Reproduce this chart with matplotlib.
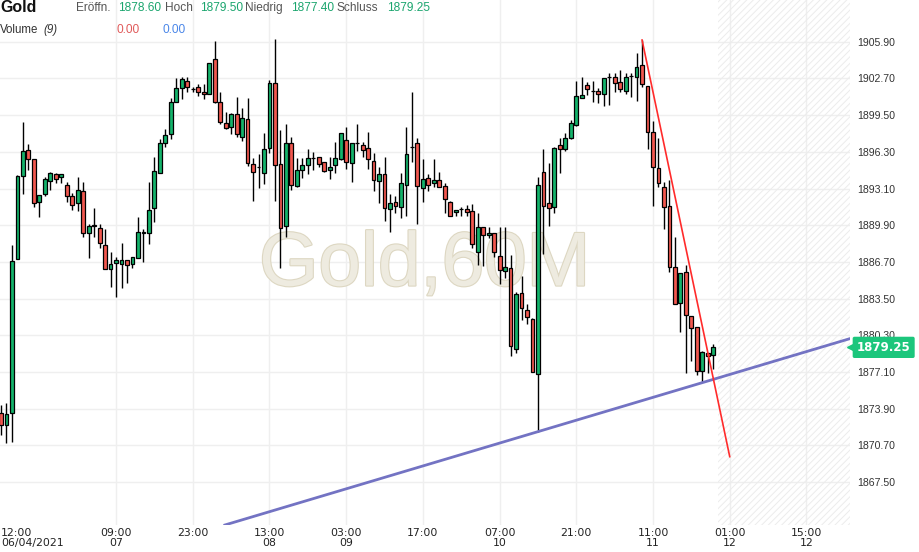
import numpy as np
import matplotlib
matplotlib.use('Agg')
import matplotlib.pyplot as plt
import matplotlib.patheffects as pe
from matplotlib.transforms import blended_transform_factory

# Gold, 60-minute candles
opens = [1873.50, 1872.48, 1873.56, 1886.98, 1894.22, 1896.46, 1895.67, 1891.95, 1892.59, 1893.73,
         1894.34, 1894.07, 1893.38, 1892.45, 1891.81, 1892.85, 1889.19, 1889.86, 1889.63, 1888.18,
         1886.05, 1886.58, 1886.49, 1886.87, 1886.49, 1887.01, 1889.19, 1889.19, 1891.37, 1894.48,
         1897.04, 1897.82, 1900.61, 1901.83, 1902.50, 1901.78, 1901.92, 1901.51, 1901.31, 1904.36,
         1900.61, 1898.78, 1898.49, 1899.57, 1897.62, 1899.13, 1895.21, 1895.00, 1894.42, 1896.60,
         1902.27, 1895.21, 1889.86, 1897.04, 1893.35, 1894.71, 1895.15, 1895.79, 1895.82, 1895.44,
         1894.71, 1895.15, 1895.64, 1897.30, 1895.30, 1897.10, 1896.86, 1896.60, 1895.47, 1893.73,
         1894.34, 1891.31, 1891.90, 1891.46, 1893.41, 1896.75, 1897.04, 1893.17, 1893.99, 1893.55,
         1893.81, 1893.32, 1891.90, 1891.02, 1891.28, 1891.28, 1891.11, 1887.54, 1889.77, 1889.05,
         1889.19, 1887.25, 1885.91, 1886.14, 1879.08, 1884.02, 1882.48, 1881.70, 1876.90, 1894.51,
         1891.81, 1891.52, 1896.86, 1896.52, 1897.48, 1898.64, 1900.96, 1902.12, 1901.60, 1901.60,
         1901.31, 1902.85, 1902.79, 1902.36, 1901.63, 1902.94, 1902.85, 1903.87, 1902.07, 1898.06,
         1894.86, 1893.26, 1891.60, 1886.23, 1883.09, 1885.85, 1882.01, 1881.00, 1877.22, 1878.73,
         1878.60]
highs = [1874.23, 1874.43, 1888.18, 1894.28, 1898.87, 1896.95, 1895.67, 1892.51, 1894.13, 1894.54,
         1894.48, 1894.34, 1893.70, 1892.68, 1894.10, 1893.70, 1890.01, 1891.37, 1890.01, 1889.54,
         1887.54, 1887.16, 1888.32, 1886.87, 1887.10, 1890.59, 1889.54, 1893.64, 1895.82, 1897.42,
         1898.26, 1900.96, 1902.71, 1902.79, 1902.79, 1901.98, 1902.18, 1902.18, 1904.01, 1905.99,
         1901.54, 1899.80, 1899.71, 1901.11, 1900.15, 1901.02, 1895.79, 1896.08, 1897.91, 1902.56,
         1906.11, 1898.20, 1898.70, 1897.56, 1895.73, 1895.73, 1896.55, 1896.31, 1895.82, 1895.44,
         1895.82, 1897.13, 1897.91, 1898.49, 1897.10, 1898.70, 1897.13, 1898.06, 1896.17, 1894.95,
         1895.82, 1892.62, 1892.48, 1894.42, 1898.43, 1901.49, 1897.48, 1895.64, 1894.34, 1895.64,
         1894.51, 1893.61, 1892.04, 1891.20, 1891.52, 1891.66, 1891.72, 1890.94, 1889.77, 1889.77,
         1889.19, 1889.77, 1889.77, 1887.30, 1884.05, 1885.50, 1883.03, 1881.78, 1894.13, 1896.52,
         1895.30, 1896.75, 1897.53, 1897.91, 1899.07, 1902.47, 1902.85, 1902.42, 1902.47, 1901.83,
         1902.71, 1903.14, 1903.20, 1903.43, 1903.14, 1903.20, 1904.94, 1906.05, 1902.07, 1899.02,
         1897.48, 1893.70, 1893.84, 1888.84, 1885.71, 1886.43, 1882.01, 1881.00, 1878.96, 1878.73,
         1879.50]
lows = [1871.61, 1870.88, 1871.03, 1886.98, 1892.59, 1894.71, 1891.52, 1890.65, 1892.48, 1893.00,
        1893.55, 1893.55, 1891.90, 1891.20, 1891.17, 1888.90, 1887.07, 1888.90, 1887.94, 1886.05,
        1884.54, 1883.67, 1884.40, 1884.83, 1886.14, 1887.01, 1886.72, 1888.23, 1890.15, 1894.42,
        1896.69, 1897.39, 1900.61, 1900.88, 1901.54, 1901.54, 1901.17, 1900.93, 1901.31, 1900.58,
        1898.70, 1898.26, 1897.82, 1897.62, 1897.24, 1895.06, 1892.04, 1893.17, 1893.49, 1896.17,
        1892.04, 1886.14, 1888.90, 1892.97, 1893.26, 1893.99, 1894.37, 1894.69, 1895.00, 1894.57,
        1893.90, 1894.48, 1895.59, 1894.77, 1893.70, 1896.40, 1895.82, 1894.77, 1892.91, 1891.81,
        1890.30, 1889.28, 1890.99, 1890.50, 1890.73, 1895.38, 1889.98, 1891.95, 1892.91, 1893.26,
        1893.20, 1890.99, 1890.70, 1890.70, 1890.73, 1890.73, 1887.89, 1886.43, 1886.35, 1888.76,
        1887.16, 1884.78, 1885.27, 1878.50, 1878.73, 1881.64, 1881.26, 1877.13, 1871.90, 1887.36,
        1889.86, 1890.94, 1894.48, 1896.37, 1897.39, 1898.55, 1900.96, 1901.25, 1900.67, 1900.53,
        1900.29, 1900.38, 1901.54, 1901.54, 1901.34, 1901.11, 1900.76, 1901.98, 1896.52, 1891.60,
        1893.20, 1889.57, 1885.79, 1883.00, 1880.62, 1876.99, 1878.09, 1876.84, 1876.26, 1876.99,
        1877.40]
closes = [1872.48, 1873.44, 1886.78, 1894.22, 1896.37, 1895.64, 1891.87, 1892.51, 1893.90, 1894.42,
          1893.96, 1894.34, 1892.42, 1891.66, 1892.94, 1889.19, 1889.83, 1889.90, 1888.32, 1886.05,
          1886.49, 1886.87, 1886.87, 1886.40, 1887.10, 1889.28, 1889.34, 1891.23, 1894.60, 1897.04,
          1897.77, 1900.61, 1901.83, 1902.62, 1901.92, 1901.78, 1901.51, 1901.31, 1904.01, 1900.67,
          1898.87, 1898.41, 1899.57, 1897.82, 1899.22, 1895.30, 1894.57, 1895.00, 1896.52, 1902.27,
          1895.12, 1889.63, 1897.10, 1893.41, 1894.69, 1895.15, 1895.73, 1895.79, 1895.24, 1894.63,
          1895.00, 1895.76, 1897.91, 1895.41, 1897.10, 1897.10, 1896.46, 1895.64, 1893.81, 1894.34,
          1891.37, 1891.87, 1891.60, 1893.55, 1896.08, 1896.75, 1893.32, 1893.90, 1893.38, 1893.81,
          1893.20, 1892.16, 1890.70, 1891.20, 1891.34, 1891.08, 1888.23, 1889.77, 1889.05, 1889.19,
          1887.54, 1886.00, 1886.23, 1879.37, 1883.90, 1882.65, 1881.93, 1877.13, 1893.38, 1891.58,
          1891.37, 1896.66, 1896.52, 1897.48, 1898.78, 1901.14, 1901.25, 1901.75, 1901.60, 1901.31,
          1902.71, 1902.85, 1902.27, 1901.75, 1902.85, 1902.94, 1903.67, 1902.18, 1898.00, 1894.95,
          1893.55, 1891.52, 1886.23, 1883.00, 1885.71, 1882.07, 1880.91, 1877.22, 1878.88, 1878.50,
          1879.25]

tick_pos = [0, 21, 35, 49, 63, 77, 91, 105, 119, 133, 147]
tick_labels = ['12:00\n06/04/2021', '09:00\n07', '23:00', '13:00\n08', '03:00\n09', '17:00',
               '07:00\n10', '21:00', '11:00\n11', '01:00\n12', '15:00\n12']
price_ticks = [1867.50, 1870.70, 1873.90, 1877.10, 1880.30, 1883.50, 1886.70,
               1889.90, 1893.10, 1896.30, 1899.50, 1902.70, 1905.90]

# trend lines drawn on the chart (candle index, price)
blue_line = [(98, 1871.90), (155, 1880.02)]
red_line = [(117, 1906.05), (133, 1869.72)]

GREEN = '#14b36b'
RED = '#f2584f'

o = np.array(opens); h = np.array(highs); l = np.array(lows); c = np.array(closes)
x = np.arange(len(o))
up = c >= o
cols = np.where(up, GREEN, RED)

plt.rcParams['hatch.linewidth'] = 0.7
fig = plt.figure(figsize=(9.2, 5.52), dpi=100)
ax = fig.add_axes([0, 27 / 552, 850 / 920, 525 / 552])

ax.set_xlim(-0.18, 154.95)
ax.set_ylim(1863.76, 1909.54)

# grid
for yv in price_ticks:
    ax.axhline(yv, color='#efefef', lw=1, zorder=0)
for xv in tick_pos[1:]:
    ax.axvline(xv, color='#efefef', lw=1, zorder=0)

# future area, hatched
ax.axvspan(130.85, 160, facecolor='none', edgecolor='#ececec', hatch='/' * 5, lw=0, zorder=0)

# watermark
ax.text(47.1, 1884.64, 'Gold,60M', fontsize=55, family='Liberation Sans', color='#eeebe0',
        ha='left', va='baseline', zorder=1,
        path_effects=[pe.Stroke(linewidth=1.6, foreground='#ddd7c2'), pe.Normal()])

# candles
ax.vlines(x, l, h, color='black', lw=1, zorder=3)
ax.bar(x, np.abs(c - o), bottom=np.minimum(o, c), width=0.7, color=cols,
       edgecolor='black', linewidth=0.9, zorder=4)

# trend lines
ax.axline(blue_line[0], blue_line[1], color='#7373c3', lw=2, zorder=5)
ax.plot([p[0] for p in red_line], [p[1] for p in red_line], color='#ff2b2b', lw=1.2, zorder=5)

# axes styling
for s in ax.spines.values():
    s.set_visible(False)
ax.yaxis.tick_right()
ax.set_yticks(price_ticks)
ax.set_yticklabels(['%.2f' % v for v in price_ticks], fontsize=7.6, color='#333333',
                   family='Liberation Sans')
ax.tick_params(axis='y', length=0, pad=5)
ax.set_xticks(tick_pos)
ax.set_xticklabels(tick_labels, fontsize=7.8, color='#222222',
                   family=['Liberation Sans Narrow', 'DejaVu Sans'], linespacing=1.05)
ax.tick_params(axis='x', length=0, pad=2)
ax.get_xticklabels()[0].set_ha('left')
ax.get_xticklabels()[0].set_x(-0.1)

# last price tag
tr = blended_transform_factory(ax.transAxes, ax.transData)
ax.text(1.008, closes[-1], '%.2f' % closes[-1], transform=tr, ha='left', va='center',
        fontsize=8.5, fontweight='bold', color='white', family='DejaVu Sans', clip_on=False,
        bbox=dict(boxstyle='round,pad=0.35,rounding_size=0.15', fc='#1cc67c', ec='none'))
ax.plot([1.0], [closes[-1]], marker='<', ms=5, color='#1cc67c', transform=tr, clip_on=False)

# header
def ftxt(px, py, s, **kw):
    fig.text(px / 920, 1 - py / 552, s, va='center', ha='left', family='Liberation Sans', **kw)

ftxt(0, 8, 'Gold', fontsize=11.5, fontweight='bold', color='#111111')
ftxt(76, 8, 'Eröffn.', fontsize=8.6, color='#555555')
ftxt(118, 8, '1878.60', fontsize=8.6, color='#1ba56e')
ftxt(165, 8, 'Hoch', fontsize=8.6, color='#555555')
ftxt(200, 8, '1879.50', fontsize=8.6, color='#1ba56e')
ftxt(245, 8, 'Niedrig', fontsize=8.6, color='#555555')
ftxt(291, 8, '1877.40', fontsize=8.6, color='#1ba56e')
ftxt(337, 8, 'Schluss', fontsize=8.6, color='#555555')
ftxt(387, 8, '1879.25', fontsize=8.6, color='#1ba56e')
ftxt(0, 30, 'Volume', fontsize=8.3, color='#333333')
ftxt(43, 30, '(9)', fontsize=8.3, color='#333333', style='italic')
ftxt(117, 30, '0.00', fontsize=8.6, color='#e05a5a')
ftxt(163, 30, '0.00', fontsize=8.6, color='#4a86e8')

fig.savefig('out.png', dpi=100)
